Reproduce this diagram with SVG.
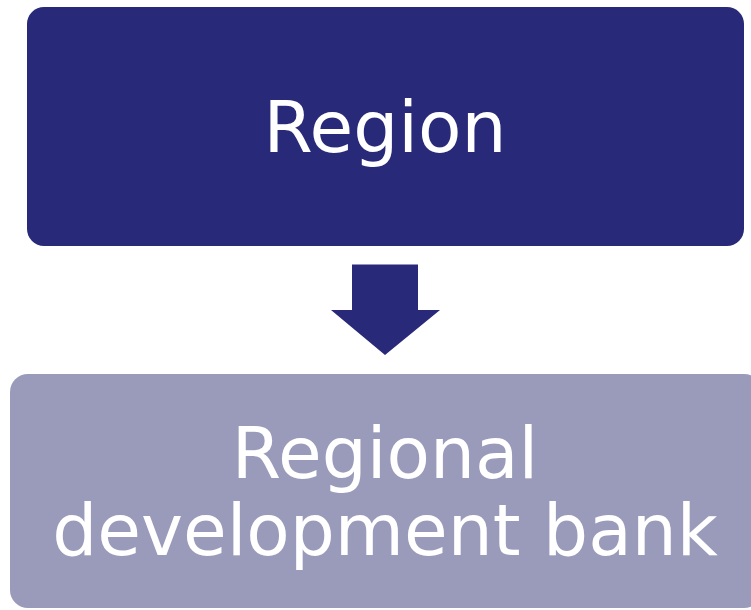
<svg xmlns="http://www.w3.org/2000/svg" width="751" height="610" viewBox="0 0 751 610">
<style>
.t{font-family:"DejaVu Sans",Verdana,sans-serif;font-size:71px;fill:#ffffff;text-anchor:middle}
</style>
<rect width="751" height="610" fill="#ffffff"/>
<g id="region">
<rect x="27" y="7" width="717" height="239" rx="17" fill="#29297a"/>
<text class="t" x="385" y="152">Region</text>
</g>
<g id="connectors">
<polygon points="352,264.5 418,264.5 418,310 440,310 385,355 331,310 352,310" fill="#29297a"/>
</g>
<g id="bank">
<rect x="10" y="374" width="752" height="234" rx="18" fill="#9a9aba"/>
<text class="t" x="385" y="478">Regional</text>
<text class="t" x="385" y="555">development bank</text>
</g>
</svg>
